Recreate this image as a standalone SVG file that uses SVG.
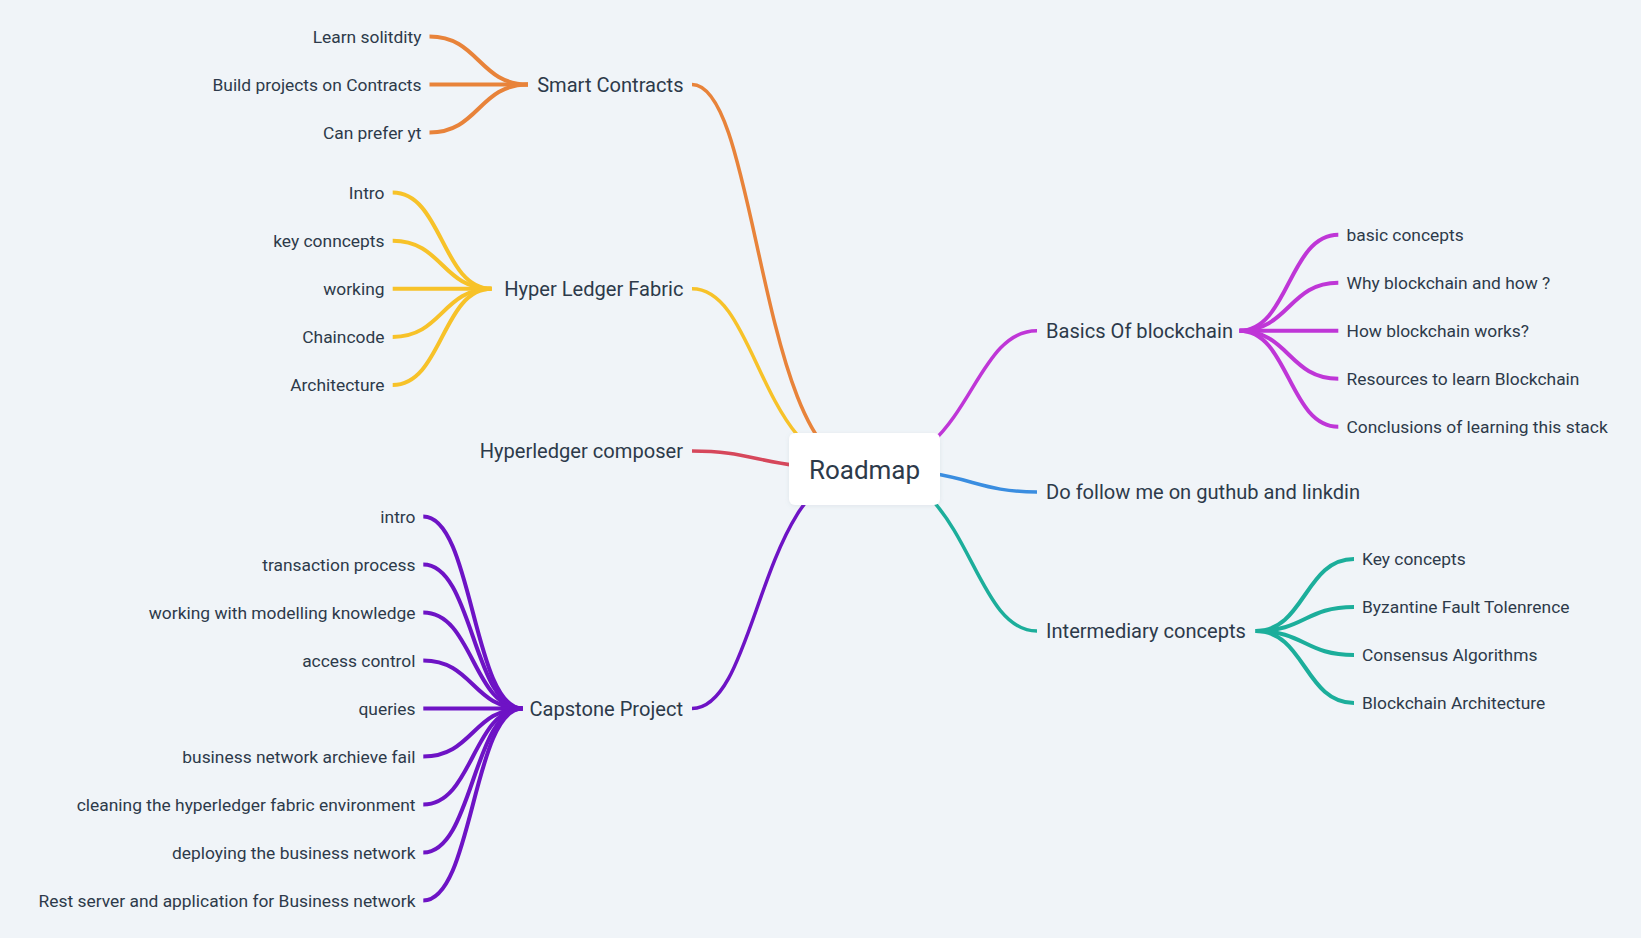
<svg xmlns="http://www.w3.org/2000/svg" width="1641" height="938" viewBox="0 0 1641 938">
<style>
.t{font-family:Roboto,"Liberation Sans",sans-serif;fill:#2D3A4A}
.leaf{font-size:17.4px}
.br{font-size:20.1px}
.root{font-size:26px}
.c{fill:none;stroke-width:4;stroke-linecap:butt}
.rc{fill:none;stroke-width:3.5}
.or{stroke:#E8833A}.ye{stroke:#F7C229}.rd{stroke:#D6475B}.pu{stroke:#6E13C5}.mg{stroke:#BF36D7}.bl{stroke:#3A8DE0}.tl{stroke:#1CAE9B}
</style>
<defs>
<filter id="sh" x="-20%" y="-20%" width="140%" height="150%">
<feDropShadow dx="0" dy="1" stdDeviation="2" flood-color="#8090a0" flood-opacity="0.15"/>
</filter>
</defs>
<rect width="1641" height="938" fill="#F0F4F8"/>
<g id="connectors">
<path class="rc or" d="M692 84.5 C759 84.5 759 469 864.5 469"/>
<path class="rc ye" d="M692 288.8 C759 288.8 759 469 864.5 469"/>
<path class="rc rd" d="M692 451 C759 451 759 469 864.5 469"/>
<path class="rc pu" d="M692 708.5 C759 708.5 759 469 864.5 469"/>
<path class="rc mg" d="M1037 330.7 C970 330.7 970 469 864.5 469"/>
<path class="rc bl" d="M1037 492 C970 492 970 469 864.5 469"/>
<path class="rc tl" d="M1037 631 C970 631 970 469 864.5 469"/>
<!-- Smart Contracts -->
<path class="c or" d="M429.5 36.5 C478.75 36.5 478.75 84.5 528 84.5"/>
<path class="c or" d="M429.5 84.5 L528 84.5"/>
<path class="c or" d="M429.5 132.5 C478.75 132.5 478.75 84.5 528 84.5"/>
<!-- Hyper Ledger Fabric -->
<path class="c ye" d="M392.7 192.6 C442.1 192.6 442.1 288.8 491.5 288.8"/>
<path class="c ye" d="M392.7 240.7 C442.1 240.7 442.1 288.8 491.5 288.8"/>
<path class="c ye" d="M392.7 288.8 L491.5 288.8"/>
<path class="c ye" d="M392.7 336.9 C442.1 336.9 442.1 288.8 491.5 288.8"/>
<path class="c ye" d="M392.7 385 C442.1 385 442.1 288.8 491.5 288.8"/>
<!-- Capstone Project -->
<path class="c pu" d="M423.3 516.5 C472.9 516.5 472.9 708.5 522.5 708.5"/>
<path class="c pu" d="M423.3 564.5 C472.9 564.5 472.9 708.5 522.5 708.5"/>
<path class="c pu" d="M423.3 612.5 C472.9 612.5 472.9 708.5 522.5 708.5"/>
<path class="c pu" d="M423.3 660.5 C472.9 660.5 472.9 708.5 522.5 708.5"/>
<path class="c pu" d="M423.3 708.5 L522.5 708.5"/>
<path class="c pu" d="M423.3 756.5 C472.9 756.5 472.9 708.5 522.5 708.5"/>
<path class="c pu" d="M423.3 804.5 C472.9 804.5 472.9 708.5 522.5 708.5"/>
<path class="c pu" d="M423.3 852.5 C472.9 852.5 472.9 708.5 522.5 708.5"/>
<path class="c pu" d="M423.3 900.5 C472.9 900.5 472.9 708.5 522.5 708.5"/>
<!-- Basics Of blockchain -->
<path class="c mg" d="M1338.3 234.7 C1288.9 234.7 1288.9 330.7 1239.5 330.7"/>
<path class="c mg" d="M1338.3 282.7 C1288.9 282.7 1288.9 330.7 1239.5 330.7"/>
<path class="c mg" d="M1338.3 330.7 L1239.5 330.7"/>
<path class="c mg" d="M1338.3 378.7 C1288.9 378.7 1288.9 330.7 1239.5 330.7"/>
<path class="c mg" d="M1338.3 426.7 C1288.9 426.7 1288.9 330.7 1239.5 330.7"/>
<!-- Intermediary concepts -->
<path class="c tl" d="M1255.7 631 L1276 631"/>
<path class="c tl" d="M1354 559 C1304.85 559 1304.85 631 1255.7 631"/>
<path class="c tl" d="M1354 607 C1304.85 607 1304.85 631 1255.7 631"/>
<path class="c tl" d="M1354 655 C1304.85 655 1304.85 631 1255.7 631"/>
<path class="c tl" d="M1354 703 C1304.85 703 1304.85 631 1255.7 631"/>
</g>
<g id="root">
<rect x="789" y="433" width="151" height="72" rx="6" fill="#FFFFFF" filter="url(#sh)"/>
<text class="t root" x="864.5" y="478.5" text-anchor="middle">Roadmap</text>
</g>
<g id="smart-contracts">
<text class="t br" x="683.5" y="91.7" text-anchor="end">Smart Contracts</text>
<g text-anchor="end">
<text class="t leaf" x="421.5" y="42.7">Learn solitdity</text>
<text class="t leaf" x="421.5" y="90.7">Build projects on Contracts</text>
<text class="t leaf" x="421.5" y="138.7">Can prefer yt</text>
</g>
</g>
<g id="hyper-ledger-fabric">
<text class="t br" x="683.5" y="296" text-anchor="end">Hyper Ledger Fabric</text>
<g text-anchor="end">
<text class="t leaf" x="384.5" y="198.8">Intro</text>
<text class="t leaf" x="384.5" y="246.9">key conncepts</text>
<text class="t leaf" x="384.5" y="295">working</text>
<text class="t leaf" x="384.5" y="343.1">Chaincode</text>
<text class="t leaf" x="384.5" y="391.2">Architecture</text>
</g>
</g>
<g id="hyperledger-composer">
<text class="t br" x="683" y="458.2" text-anchor="end">Hyperledger composer</text>
</g>
<g id="capstone-project">
<text class="t br" x="683" y="715.7" text-anchor="end">Capstone Project</text>
<g text-anchor="end">
<text class="t leaf" x="415.5" y="522.7">intro</text>
<text class="t leaf" x="415.5" y="570.7">transaction process</text>
<text class="t leaf" x="415.5" y="618.7">working with modelling knowledge</text>
<text class="t leaf" x="415.5" y="666.7">access control</text>
<text class="t leaf" x="415.5" y="714.7">queries</text>
<text class="t leaf" x="415.5" y="762.7">business network archieve fail</text>
<text class="t leaf" x="415.5" y="810.7">cleaning the hyperledger fabric environment</text>
<text class="t leaf" x="415.5" y="858.7">deploying the business network</text>
<text class="t leaf" x="415.5" y="906.7">Rest server and application for Business network</text>
</g>
</g>
<g id="basics-of-blockchain">
<text class="t br" x="1046" y="337.9">Basics Of blockchain</text>
<text class="t leaf" x="1346.5" y="240.9">basic concepts</text>
<text class="t leaf" x="1346.5" y="288.9">Why blockchain and how ?</text>
<text class="t leaf" x="1346.5" y="336.9">How blockchain works?</text>
<text class="t leaf" x="1346.5" y="384.9">Resources to learn Blockchain</text>
<text class="t leaf" x="1346.5" y="432.9">Conclusions of learning this stack</text>
</g>
<g id="do-follow">
<text class="t br" x="1046" y="499.2">Do follow me on guthub and linkdin</text>
</g>
<g id="intermediary-concepts">
<text class="t br" x="1046" y="638.2">Intermediary concepts</text>
<text class="t leaf" x="1362" y="565.2">Key concepts</text>
<text class="t leaf" x="1362" y="613.2">Byzantine Fault Tolenrence</text>
<text class="t leaf" x="1362" y="661.2">Consensus Algorithms</text>
<text class="t leaf" x="1362" y="709.2">Blockchain Architecture</text>
</g>
</svg>
